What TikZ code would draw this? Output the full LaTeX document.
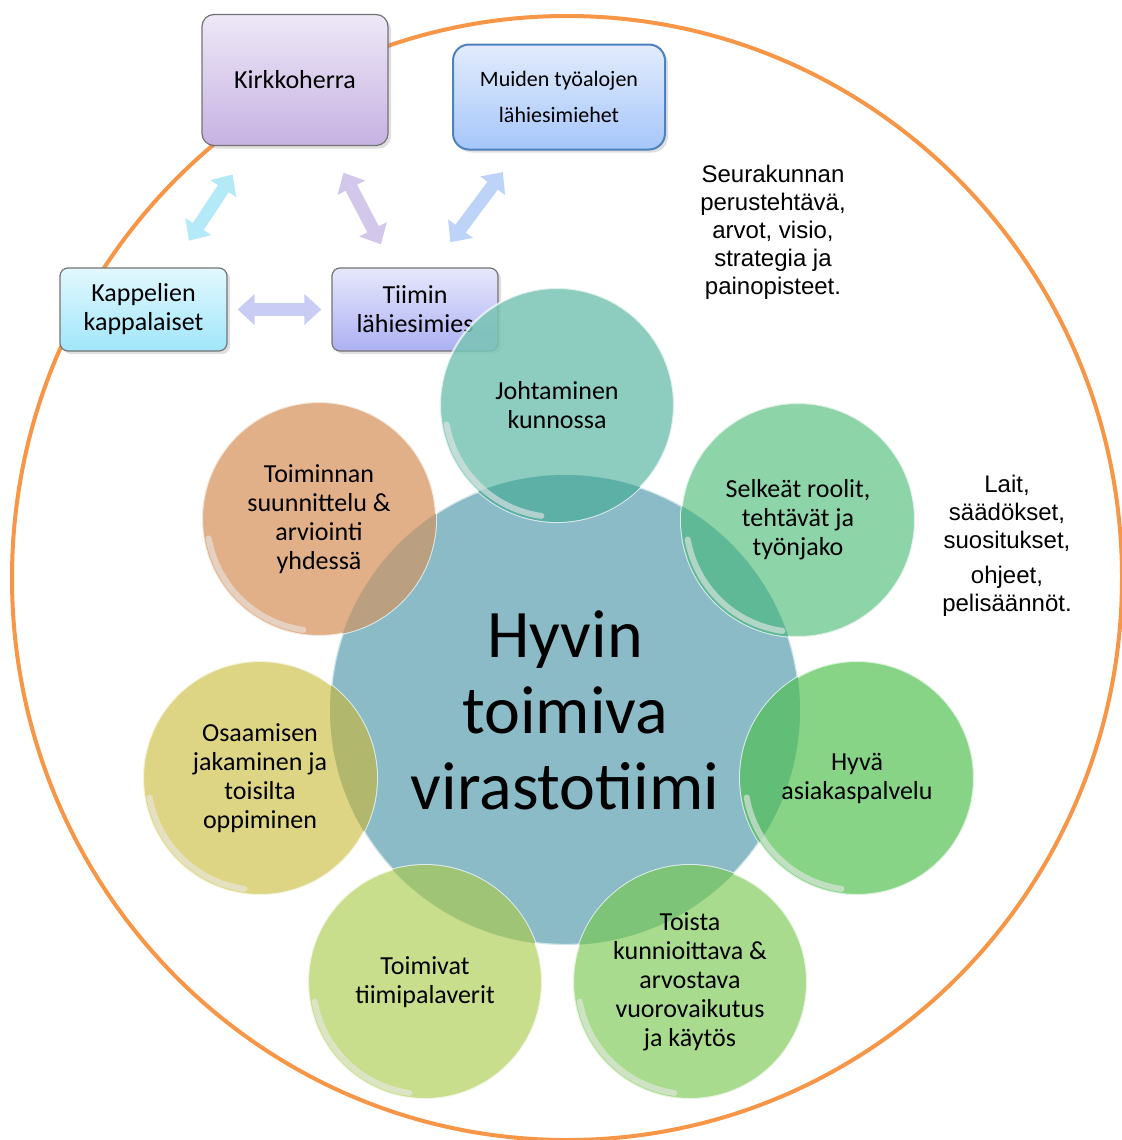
\documentclass[tikz,border=0pt]{standalone}
\usepackage{fontspec}
\setmainfont{Carlito}
\newfontfamily\arialfont{Liberation Sans}
\usetikzlibrary{arrows.meta, shadows}

\definecolor{ellipsecol}{HTML}{F79646}
\definecolor{kirktop}{HTML}{EEE8F7}
\definecolor{kirkbot}{HTML}{C6B2E2}
\definecolor{muitop}{HTML}{E2ECFC}
\definecolor{muibot}{HTML}{A6C6FA}
\definecolor{muiline}{HTML}{4F81BD}
\definecolor{kapptop}{HTML}{E2F8FE}
\definecolor{kappbot}{HTML}{A0E6FA}
\definecolor{tiitop}{HTML}{E6E8FC}
\definecolor{tiibot}{HTML}{ADB0F2}
\definecolor{keskicol}{HTML}{8ABBC7}
\definecolor{jocol}{HTML}{78C4B5}
\definecolor{secol}{HTML}{79CC9A}
\definecolor{hycol}{HTML}{72CD72}
\definecolor{tocol}{HTML}{99D57A}
\definecolor{ticol}{HTML}{BFD878}
\definecolor{oscol}{HTML}{D8CE6F}
\definecolor{sucol}{HTML}{DDA273}
\definecolor{joover}{HTML}{5CB0A5}
\definecolor{seover}{HTML}{5FB996}
\definecolor{hyover}{HTML}{62BE76}
\definecolor{toover}{HTML}{7DC378}
\definecolor{tiover}{HTML}{A0C476}
\definecolor{osover}{HTML}{B2B76E}
\definecolor{suover}{HTML}{BAA080}
\definecolor{rimcol}{HTML}{E8E8E8}
\definecolor{kkarrow}{HTML}{B4EAF8}
\definecolor{ktarrow}{HTML}{D3C8EC}
\definecolor{mtarrow}{HTML}{BDD3F8}
\definecolor{hzarrow}{HTML}{C9CCF5}

\tikzset{
  box/.style={draw=#1, rounded corners=4pt, align=center, line width=0.6pt,
    font=\fontsize{13}{14.5}\selectfont,
    drop shadow={opacity=0.25, shadow xshift=1.5pt, shadow yshift=-1.5pt}},
  bubble/.style={circle, minimum size=117pt, inner sep=0pt, fill=#1,
    fill opacity=0.85, draw=white, draw opacity=0.7, line width=1pt},
  bubbletext/.style={align=center, font=\fontsize{13}{14.5}\selectfont},
  dblarrow/.style={line width=6.5pt, draw=#1,
    {Triangle[width=15pt,length=8.5pt]}-{Triangle[width=15pt,length=8.5pt]}},
  sidetext/.style={align=center, font=\arialfont\fontsize{12}{14}\selectfont},
}

\begin{document}
\begin{tikzpicture}[x=0.5pt, y=-0.5pt]
\useasboundingbox (0,0) rectangle (1122,1140);

% outer ellipse
\draw[ellipsecol, line width=2pt] (567,578) ellipse [x radius=277.5pt, y radius=281pt];

% boxes
\node[box=black!55, rounded corners=6pt, top color=kirktop, bottom color=kirkbot,
  minimum width=93pt, minimum height=65.5pt] (kirk) at (295,80) {Kirkkoherra};
\node[box=muiline, line width=1pt, rounded corners=8pt,
  top color=muitop, bottom color=muibot, minimum width=106pt, minimum height=52.5pt,
  font=\fontsize{11}{18}\selectfont] (muiden) at (559,97) {Muiden työalojen\\lähiesimiehet};
\node[box=black!55, top color=kapptop, bottom color=kappbot,
  minimum width=83.5pt, minimum height=41.5pt] (kapp) at (143.5,309.5) {Kappelien\\kappalaiset};
\node[box=black!55, top color=tiitop, bottom color=tiibot,
  minimum width=83pt, minimum height=41.5pt] (tiimi) at (415,309.5) {Tiimin\\lähiesimies};

% arrows between boxes
\draw[dblarrow=kkarrow, shorten <=17pt, shorten >=16pt] (kirk) -- (kapp);
\draw[dblarrow=ktarrow, shorten <=15pt, shorten >=13pt] (kirk) -- (tiimi);
\draw[dblarrow=mtarrow, shorten <=13.5pt, shorten >=42pt] (muiden) -- ([xshift=-7.5pt]tiimi.center);
\draw[dblarrow=hzarrow, shorten <=5pt, shorten >=5pt] (kapp) -- (tiimi);

% side texts
\node[sidetext] (perus) at (773,232) {Seurakunnan\\perustehtävä,\\arvot, visio,\\strategia ja\\painopisteet.};
\node[sidetext] (lait) at (1007,546) {Lait,\\säädökset,\\suositukset,\\[3.5pt]ohjeet,\\pelisäännöt.};

% central circle
\node[circle, minimum size=235pt, inner sep=0pt, fill=keskicol, draw=white,
  draw opacity=0.6, line width=1.2pt, align=center,
  font=\fontsize{34}{38}\selectfont] (keski) at (565,710) {Hyvin\\toimiva\\virastotiimi};

% ring of bubbles
\node[bubble=jocol] (jo) at (557,405) {};
\node[bubble=secol] (se) at (798,520) {};
\node[bubble=hycol] (hy) at (857,778) {};
\node[bubble=tocol] (to) at (690,982) {};
\node[bubble=ticol] (ti) at (425,982) {};
\node[bubble=oscol] (os) at (260,778) {};
\node[bubble=sucol] (su) at (319,519) {};

% overlaps with the central circle
\begin{scope}
  \clip (keski.center) circle (117.5pt);
  \foreach \n/\c in {jo/joover, se/seover, hy/hyover, to/toover, ti/tiover, os/osover, su/suover}
    \fill[\c] (\n.center) circle (58.5pt);
\end{scope}

% glossy rims
\foreach \n in {jo, se, hy, to, ti, os, su}
  \draw[rimcol, line width=3pt, opacity=0.6, line cap=round]
    ([shift={(190:56pt)}]\n.center) arc[start angle=190, end angle=262, radius=56pt];

% bubble texts
\node[bubbletext] (jo-t) at (jo) {Johtaminen\\kunnossa};
\node[bubbletext] (se-t) at (se) {Selkeät roolit,\\tehtävät ja\\työnjako};
\node[bubbletext] (hy-t) at (hy) {Hyvä\\asiakaspalvelu};
\node[bubbletext] (to-t) at (to) {Toista\\kunnioittava \&\\arvostava\\vuorovaikutus\\ja käytös};
\node[bubbletext] (ti-t) at (ti) {Toimivat\\tiimipalaverit};
\node[bubbletext] (os-t) at (os) {Osaamisen\\jakaminen ja\\toisilta\\oppiminen};
\node[bubbletext] (su-t) at (su) {Toiminnan\\suunnittelu \&\\arviointi\\yhdessä};
\end{tikzpicture}
\end{document}
